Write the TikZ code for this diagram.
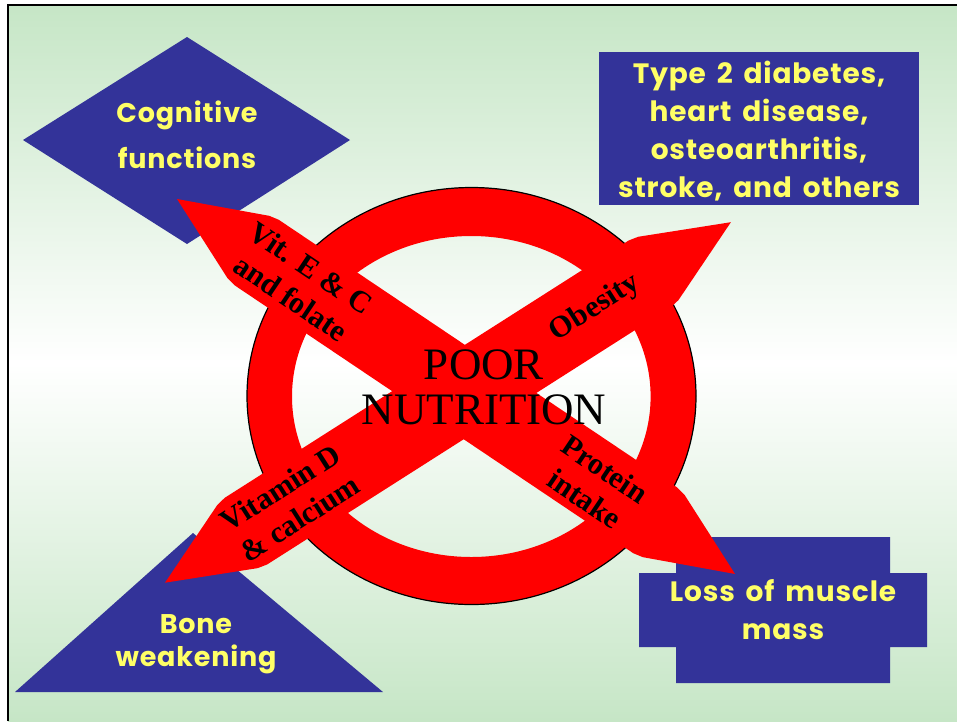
\documentclass[tikz,border=0pt]{standalone}
\usepackage{fontspec}
\setmainfont{Liberation Serif}
\newfontfamily\comic{Poppins}[LetterSpace=3, WordSpace=1.6]
\definecolor{bgg}{RGB}{198,230,198}
\definecolor{nblue}{RGB}{51,51,153}
\definecolor{tyellow}{RGB}{255,255,102}
\tikzset{
  arrtext/.style={font=\bfseries\fontsize{30.5}{36}\selectfont, align=center, inner sep=0pt, text=black},
  bluetext/.style={font=\comic\bfseries\fontsize{28}{38}\selectfont, text=tyellow, align=center, inner sep=0pt},
  bigtext/.style={font=\fontsize{45}{45}\selectfont, align=center, inner sep=0pt, text=black},
  shapefill/.style={fill=nblue},
  redfill/.style={fill=red}
}
\begin{document}
\begin{tikzpicture}[x=1pt,y=-1pt]
\useasboundingbox (0,0) rectangle (957,721);
\fill[white] (0,0) rectangle (957,721);
\shade[top color=bgg, bottom color=bgg, middle color=white] (8,5) rectangle (957,721);
\draw[line width=2pt] (8,721) -- (8,5.3) -- (957,5.3);
% blue shapes
\fill[shapefill] (187,37) -- (350,140) -- (187,244) -- (23,140) -- cycle;
\fill[shapefill] (599,52) rectangle (919,205);
\fill[shapefill] (676,537) -- (890,537) -- (890,573) -- (927,573) -- (927,647) -- (890,647) -- (890,683) -- (676,683) -- (676,647) -- (639,647) -- (639,573) -- (676,573) -- cycle;
\fill[shapefill] (193,533) -- (383,692) -- (15,692) -- cycle;
% ring
\fill[redfill, even odd rule] (471.5,396) ellipse [x radius=224.5pt, y radius=208.5pt] (471.3,396.5) ellipse [x radius=179.3pt, y radius=160.5pt];
\draw[line width=1.2pt] (471.5,396) ellipse [x radius=224.5pt, y radius=208.5pt];
% arrows
\begin{scope}[shift={(177,199)}, rotate=-33.9]
\fill[redfill] (0,0) -- (86,-37.5) -- (96,-39.5) -- (576.3,-39.5) -- (586.3,-37.5) -- (672.3,0) -- (586.3,37.5) -- (576.3,39.5) -- (96,39.5) -- (86,37.5) -- cycle;
\end{scope}
\begin{scope}[shift={(165,582.7)}, rotate=32.5]
\fill[redfill] (0,0) -- (86,-37.5) -- (96,-39.5) -- (575,-39.5) -- (585,-37.5) -- (671,0) -- (585,37.5) -- (575,39.5) -- (96,39.5) -- (86,37.5) -- cycle;
\end{scope}
% texts
\node[bigtext] (poor) at (484,387) {POOR\\NUTRITION};
\node[arrtext, rotate=-33.9] (vitec) at (301,283) {Vit. E \& C\\and folate};
\node[arrtext, rotate=32.5] (obes) at (595,308) {Obesity};
\node[arrtext, rotate=32.5] (vitd) at (290,503) {Vitamin D\\\& calcium};
\node[arrtext, rotate=-33.9] (prot) at (595,484) {Protein\\intake};
\node[bluetext] (t2d) at (759,131) {Type 2 diabetes,\\heart disease,\\osteoarthritis,\\stroke, and others};
\node[bluetext, font=\comic\bfseries\fontsize{27}{46}\selectfont] (cog) at (187,135) {Cognitive\\functions};
\node[bluetext, font=\comic\bfseries\fontsize{27}{33}\selectfont] (bone) at (196,644) {Bone\\weakening};
\node[bluetext] (loss) at (783,610) {Loss of muscle\\mass};
\end{tikzpicture}
\end{document}
